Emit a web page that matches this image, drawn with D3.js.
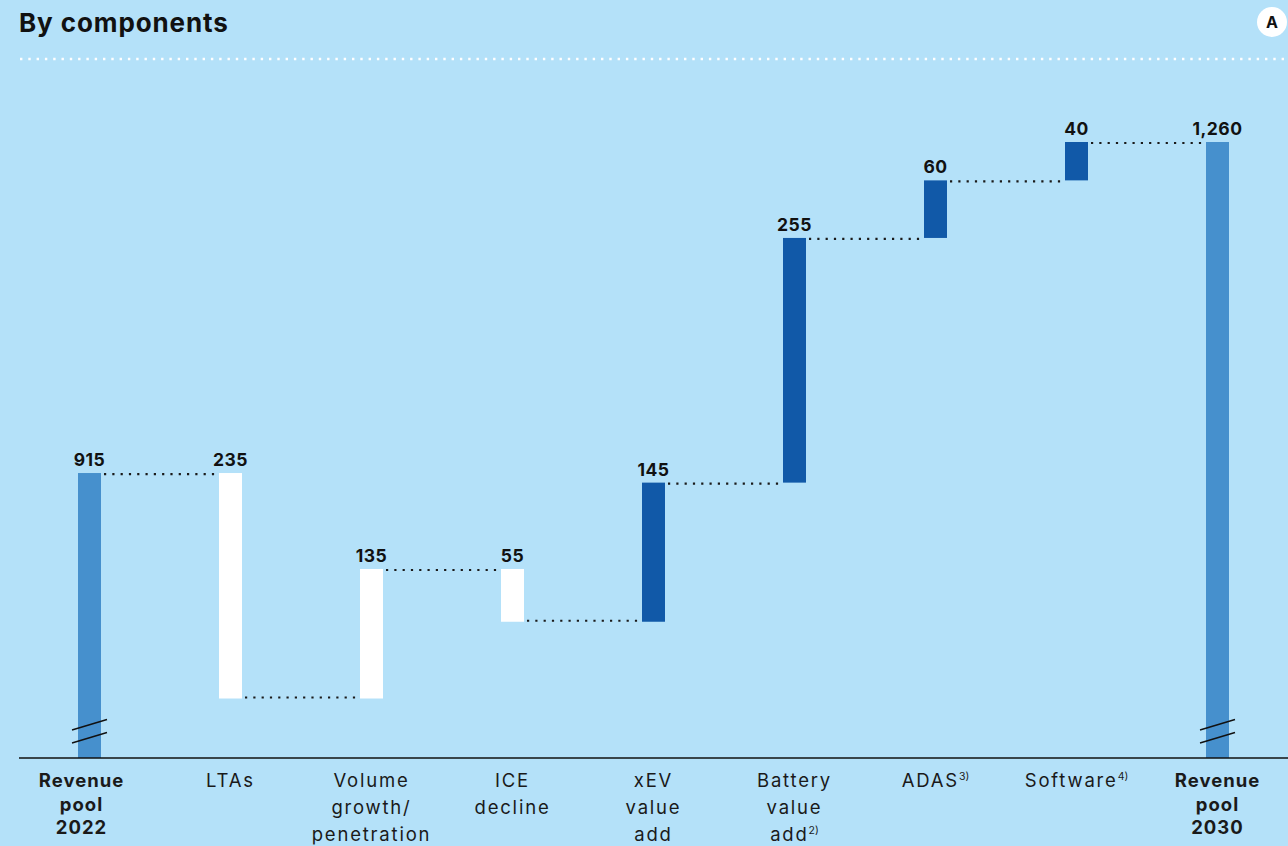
<!DOCTYPE html>
<html>
<head>
<meta charset="utf-8">
<script src="https://cdn.jsdelivr.net/npm/d3@7"></script>
<style>
  html, body { margin: 0; padding: 0; background: #b4e1f9; }
  svg { display: block; font-family: Inter, "Noto Sans", sans-serif; }
</style>
</head>
<body>
<svg id="chart" width="1288" height="846"></svg>
<script>
// Revenue pool bridge, 2022 -> 2030
const categories = ["Revenue pool 2022", "LTAs", "Volume growth/ penetration", "ICE decline",
  "xEV value add", "Battery value add", "ADAS", "Software", "Revenue pool 2030"];
// label lines per category
const labelLines = [
  ["Revenue", "pool", "2022"],
  ["LTAs"],
  ["Volume", "growth/", "penetration"],
  ["ICE", "decline"],
  ["xEV", "value", "add"],
  ["Battery", "value", "add"],
  ["ADAS"],
  ["Software"],
  ["Revenue", "pool", "2030"]
];
const footnotes = ["", "", "", "", "", "2)", "3)", "4)", ""];
// signed change per step; totals are given as absolute values
const changes = [915, -235, 135, -55, 145, 255, 60, 40, 1260];
const isTotal = [true, false, false, false, false, false, false, false, true];
// colour group: market effects vs. technology effects
const groups = ["total", "market", "market", "market", "tech", "tech", "tech", "tech", "total"];
const valueLabels = ["915", "235", "135", "55", "145", "255", "60", "40", "1,260"];

const colors = { total: "#4690cd", tech: "#1159a8", market: "#ffffff" };

const svg = d3.select("#chart");
const W = 1288, left = 19, right = 1288, baseY = 758;

// running start/end for each step
let running = 0;
const steps = categories.map((c, i) => {
  let start, end;
  if (isTotal[i]) { start = null; end = changes[i]; running = changes[i]; }
  else { start = running; end = running + changes[i]; running = end; }
  return { cat: c, i, total: isTotal[i], group: groups[i], start, end, label: valueLabels[i] };
});

const x = d3.scaleBand().domain(categories).range([left, right])
  .paddingInner(0.837).paddingOuter(0.837 / 2);
// broken value axis: scale starts well above zero
const y = d3.scaleLinear().domain([618, 1260]).range([baseY, 142]);

// title
svg.append("text").attr("x", 19).attr("y", 32)
  .attr("font-size", 26).attr("font-weight", 700).attr("letter-spacing", 0.9)
  .attr("fill", "#111").text("By components");

// badge
svg.append("circle").attr("cx", 1272).attr("cy", 22).attr("r", 15).attr("fill", "#fff");
svg.append("text").attr("x", 1272).attr("y", 28).attr("text-anchor", "middle")
  .attr("font-size", 16).attr("font-weight", 700).attr("fill", "#111").text("A");

// header dotted rule
svg.append("line").attr("x1", 20).attr("x2", W).attr("y1", 59).attr("y2", 59)
  .attr("stroke", "#fff").attr("stroke-width", 2.4)
  .attr("stroke-dasharray", "2.4 5.9");

const bw = x.bandwidth();
const barTop = d => d.total ? y(d.end) : y(Math.max(d.start, d.end));
const barBot = d => d.total ? baseY : y(Math.min(d.start, d.end));

// dotted connectors between consecutive bars
const conn = svg.append("g");
steps.slice(0, -1).forEach((d, k) => {
  const next = steps[k + 1];
  const falling = !d.total && d.end < d.start;
  const yy = y(d.end) + (falling ? -1 : 1);
  conn.append("line")
    .attr("x1", x(d.cat) + bw + 3).attr("x2", x(next.cat) - 1)
    .attr("y1", yy).attr("y2", yy)
    .attr("stroke", "#1a1a1a").attr("stroke-width", 2.2)
    .attr("stroke-dasharray", "2.2 6.1");
});

// bars
svg.append("g").selectAll("rect").data(steps).join("rect")
  .attr("x", d => x(d.cat)).attr("width", bw)
  .attr("y", barTop).attr("height", d => barBot(d) - barTop(d))
  .attr("fill", d => colors[d.group]);

// axis-break marks on the total bars
steps.filter(d => d.total).forEach(d => {
  const cx = x(d.cat) + bw / 2;
  [730, 743].forEach(yy => {
    svg.append("line")
      .attr("x1", cx - 17.5).attr("y1", yy)
      .attr("x2", cx + 17.5).attr("y2", yy - 10.5)
      .attr("stroke", "#111").attr("stroke-width", 1.4);
  });
});

// baseline
svg.append("line").attr("x1", left).attr("x2", W).attr("y1", baseY).attr("y2", baseY)
  .attr("stroke", "#111").attr("stroke-width", 1.6);

// value labels
svg.append("g").selectAll("text").data(steps).join("text")
  .attr("x", d => x(d.cat) + bw / 2)
  .attr("y", d => barTop(d) - 7)
  .attr("text-anchor", "middle").attr("font-size", 17.5).attr("font-weight", 700)
  .attr("letter-spacing", 0.5)
  .attr("fill", "#111").text(d => d.label);

// category labels
const lab = svg.append("g");
steps.forEach((d, i) => {
  const cx = x(d.cat) + bw / 2 + (i === 0 ? -8 : 0);
  const t = lab.append("text").attr("text-anchor", "middle")
    .attr("font-size", 18.5).attr("letter-spacing", d.total ? 1.0 : 1.8)
    .attr("fill", "#1a1a1a")
    .attr("font-weight", d.total ? 700 : 400);
  labelLines[i].forEach((line, j) => {
    const ts = t.append("tspan").attr("x", cx)
      .attr("y", 787 + j * (d.total ? 23.5 : 27));
    ts.append("tspan").text(line);
    if (j === labelLines[i].length - 1 && footnotes[i]) {
      ts.append("tspan").attr("font-size", 10.5).attr("letter-spacing", 0)
        .attr("dy", -7).text(footnotes[i]);
    }
  });
});
</script>
</body>
</html>
